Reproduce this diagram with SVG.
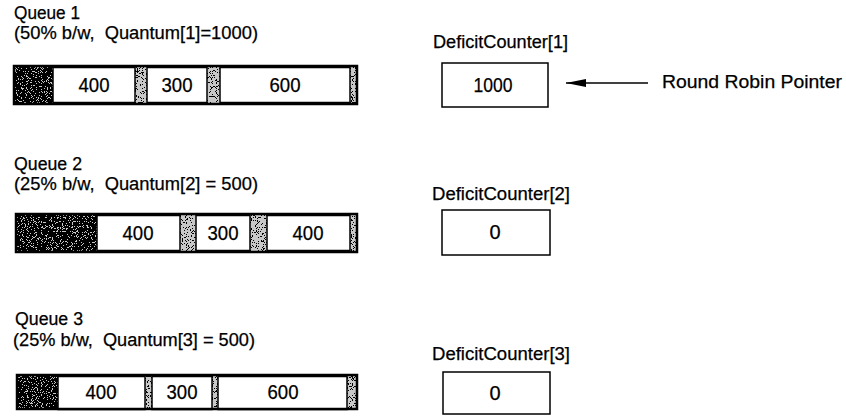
<svg xmlns="http://www.w3.org/2000/svg" width="846" height="420" viewBox="0 0 846 420">
  <style>
    text { font-family: "Liberation Sans", Arial, sans-serif; fill: #000; stroke: #000; stroke-width: 0.25; }
    .lbl { font-size: 18px; }
    .num { font-size: 20px; text-anchor: middle; }
    .bar { fill: none; stroke: #000; stroke-width: 2.5; }
    .pkt { fill: #fff; stroke: #000; stroke-width: 1.5; }
    .cnt { fill: #fff; stroke: #000; stroke-width: 1.5; }
    .pad { fill: #c8c8c8; }
    .dark { filter: url(#speckDark); fill: #000; }
    .light { filter: url(#speckLight); fill: #000; }
  </style>
  <defs>
    <!-- stippled halftone used for the unused buffer space -->
    <filter id="speckDark" x="0" y="0" width="100%" height="100%">
      <feTurbulence type="fractalNoise" baseFrequency="1.2" numOctaves="1" seed="7"/>
      <feColorMatrix type="matrix" values="0 0 0 0 0  0 0 0 0 0  0 0 0 0 0  1 0 0 0 0"/>
      <feComponentTransfer><feFuncA type="discrete" tableValues="0 0 1 1 1"/></feComponentTransfer>
      <feComposite operator="in" in2="SourceGraphic"/>
    </filter>
    <filter id="speckLight" x="0" y="0" width="100%" height="100%">
      <feTurbulence type="fractalNoise" baseFrequency="1.2" numOctaves="1" seed="3"/>
      <feColorMatrix type="matrix" values="0 0 0 0 0  0 0 0 0 0  0 0 0 0 0  1 0 0 0 0"/>
      <feComponentTransfer><feFuncA type="discrete" tableValues="0 0 0 1 1"/></feComponentTransfer>
      <feComposite operator="in" in2="SourceGraphic"/>
    </filter>
    <marker id="head" viewBox="0 0 20 10" refX="0" refY="5" markerWidth="20" markerHeight="10" markerUnits="userSpaceOnUse" orient="auto">
      <path d="M0,5 L20,1 L20,9 Z" fill="#000"/>
    </marker>
  </defs>

  <!-- Queue 1 -->
  <g id="queue1">
    <text class="lbl" x="14" y="19" textLength="66" lengthAdjust="spacingAndGlyphs">Queue 1</text>
    <text class="lbl" x="14" y="39" textLength="244" lengthAdjust="spacingAndGlyphs" xml:space="preserve">(50% b/w,  Quantum[1]=1000)</text>
    <rect class="pad" x="14" y="66" width="343" height="38"/>
    <rect class="dark" x="14" y="66" width="39" height="38"/>
    <rect class="light" x="135" y="66" width="12" height="38"/>
    <rect class="light" x="207" y="66" width="13" height="38"/>
    <rect class="light" x="350" y="66" width="7" height="38"/>
    <rect class="pkt" x="53" y="67.5" width="82" height="35"/>
    <rect class="pkt" x="147" y="67.5" width="60" height="35"/>
    <rect class="pkt" x="220" y="67.5" width="130" height="35"/>
    <rect class="bar" x="14" y="66" width="343" height="38"/>
    <text class="num" x="94" y="92" textLength="31" lengthAdjust="spacingAndGlyphs">400</text>
    <text class="num" x="177" y="92" textLength="31" lengthAdjust="spacingAndGlyphs">300</text>
    <text class="num" x="285" y="92" textLength="31" lengthAdjust="spacingAndGlyphs">600</text>
  </g>

  <!-- Queue 2 -->
  <g id="queue2">
    <text class="lbl" x="14" y="170" textLength="68" lengthAdjust="spacingAndGlyphs">Queue 2</text>
    <text class="lbl" x="14" y="190" textLength="244" lengthAdjust="spacingAndGlyphs" xml:space="preserve">(25% b/w,  Quantum[2] = 500)</text>
    <rect class="pad" x="16" y="214" width="341" height="38"/>
    <rect class="dark" x="16" y="214" width="81" height="38"/>
    <rect class="light" x="180" y="214" width="16" height="38"/>
    <rect class="light" x="250" y="214" width="17" height="38"/>
    <rect class="light" x="350" y="214" width="7" height="38"/>
    <rect class="pkt" x="97" y="215.5" width="83" height="35"/>
    <rect class="pkt" x="196" y="215.5" width="54" height="35"/>
    <rect class="pkt" x="267" y="215.5" width="83" height="35"/>
    <rect class="bar" x="16" y="214" width="341" height="38"/>
    <text class="num" x="138" y="240" textLength="31" lengthAdjust="spacingAndGlyphs">400</text>
    <text class="num" x="223" y="240" textLength="31" lengthAdjust="spacingAndGlyphs">300</text>
    <text class="num" x="308" y="240" textLength="31" lengthAdjust="spacingAndGlyphs">400</text>
  </g>

  <!-- Queue 3 -->
  <g id="queue3">
    <text class="lbl" x="15" y="325" textLength="68" lengthAdjust="spacingAndGlyphs">Queue 3</text>
    <text class="lbl" x="13" y="346" textLength="242" lengthAdjust="spacingAndGlyphs" xml:space="preserve">(25% b/w,  Quantum[3] = 500)</text>
    <rect class="pad" x="17" y="375" width="340" height="34"/>
    <rect class="dark" x="17" y="375" width="41" height="34"/>
    <rect class="light" x="145" y="375" width="7" height="34"/>
    <rect class="light" x="212" y="375" width="6" height="34"/>
    <rect class="light" x="347" y="375" width="10" height="34"/>
    <rect class="pkt" x="58" y="376.5" width="87" height="33"/>
    <rect class="pkt" x="152" y="376.5" width="60" height="33"/>
    <rect class="pkt" x="218" y="376.5" width="129" height="33"/>
    <rect class="bar" x="17" y="375" width="340" height="34"/>
    <text class="num" x="101" y="399" textLength="31" lengthAdjust="spacingAndGlyphs">400</text>
    <text class="num" x="182" y="399" textLength="31" lengthAdjust="spacingAndGlyphs">300</text>
    <text class="num" x="283" y="399" textLength="31" lengthAdjust="spacingAndGlyphs">600</text>
  </g>

  <!-- Deficit counters -->
  <g id="counter1">
    <text class="lbl" x="433" y="48" textLength="135" lengthAdjust="spacingAndGlyphs">DeficitCounter[1]</text>
    <rect class="cnt" x="442" y="63" width="106" height="44"/>
    <text class="num" x="493" y="92" textLength="39" lengthAdjust="spacingAndGlyphs">1000</text>
  </g>
  <g id="counter2">
    <text class="lbl" x="432" y="200" textLength="138" lengthAdjust="spacingAndGlyphs">DeficitCounter[2]</text>
    <rect class="cnt" x="442" y="210" width="108" height="45"/>
    <text class="num" x="495" y="239">0</text>
  </g>
  <g id="counter3">
    <text class="lbl" x="432" y="360" textLength="138" lengthAdjust="spacingAndGlyphs">DeficitCounter[3]</text>
    <rect class="cnt" x="443" y="372" width="107" height="42"/>
    <text class="num" x="495" y="400">0</text>
  </g>

  <!-- Round robin pointer -->
  <g id="pointer">
    <text class="lbl" x="662" y="88" textLength="180" lengthAdjust="spacingAndGlyphs">Round Robin Pointer</text>
  </g>

  <g id="connectors">
    <line x1="566" y1="83" x2="648" y2="83" stroke="#000" stroke-width="1.5" marker-start="url(#head)"/>
  </g>
</svg>
